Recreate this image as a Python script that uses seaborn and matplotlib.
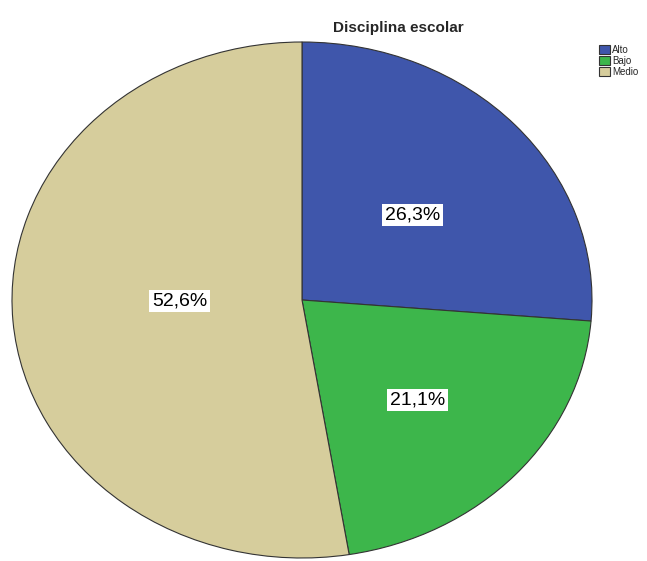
import matplotlib
matplotlib.use("Agg")
import matplotlib.pyplot as plt
import seaborn as sns

categories = ["Alto", "Bajo", "Medio"]
percentages = [26.3, 21.1, 52.6]
colors = ["#3F56AB", "#3DB64B", "#D6CD9C"]
title = "Disciplina escolar"

sns.set_theme(style="white")
plt.rcParams["font.family"] = ["Liberation Sans", "DejaVu Sans"]

fig = plt.figure(figsize=(6.47, 5.61), dpi=100)
ax = fig.add_axes([12 / 647, 3 / 561, 580 / 647, 516 / 561])

wedges, texts, autotexts = ax.pie(
    percentages,
    colors=colors,
    startangle=90,
    counterclock=False,
    autopct=lambda p: f"{p:.1f}%".replace(".", ","),
    pctdistance=0.53,
    wedgeprops=dict(edgecolor="#333333", linewidth=0.8),
    textprops=dict(fontsize=14, color="black"),
)
for t in autotexts:
    t.set_bbox(dict(facecolor="white", edgecolor="none", pad=2))
# label offsets as placed in the original
x, y = autotexts[0].get_position()
autotexts[0].set_position((x * 0.98, y * 0.92))
x, y = autotexts[1].get_position()
autotexts[1].set_position((x * 1.02, y * 1.08))
x, y = autotexts[2].get_position()
autotexts[2].set_position((x * 0.8, y * 0.1))

ax.set_aspect("auto")
ax.set_xlim(-1, 1)
ax.set_ylim(-1, 1)
ax.axis("off")

fig.text(398 / 647, 1 - 28 / 561, title, ha="center", va="center",
         fontsize=11, fontweight="bold")

fig.legend(wedges, categories, loc="upper left", bbox_to_anchor=(592 / 647, 1 - 38 / 561),
           fontsize=7, frameon=False, handlelength=1.1, handleheight=1.1,
           handletextpad=0.3, labelspacing=0.1, borderpad=0.2)

fig.savefig("out.png", dpi=100)
